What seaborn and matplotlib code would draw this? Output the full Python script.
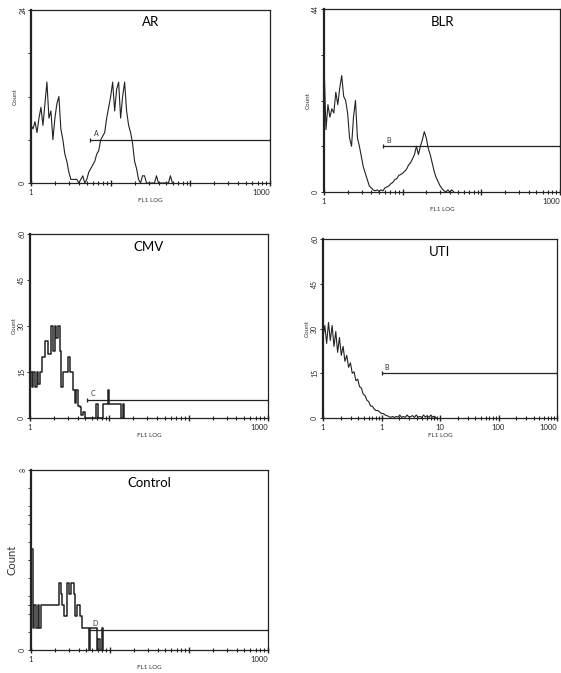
import numpy as np
import seaborn as sns
import matplotlib.pyplot as plt
from matplotlib.ticker import NullFormatter, MultipleLocator, FixedLocator

# histogram counts per channel
# channels are evenly spaced in log10(FL1); res = channels per decade
ar_counts = [8, 7.5, 8.5, 7, 9, 10.5, 8, 11, 14, 9, 10, 6, 9, 11, 12, 7.5, 6, 4, 3, 1.5,
             0.5, 0.5, 0.5, 0.5, 0, 0.5, 1, 0, 0.5, 1.5, 2, 2.5, 3, 4, 4.5, 6, 6.5, 7, 9,
             10.5, 12, 14, 10, 13, 14, 9, 12, 14, 10, 8, 7, 5.5, 3, 2, 0.5, 0, 1, 1, 0,
             0, 0, 0, 0, 1, 0, 0, 0, 0, 0, 0, 1, 0]
blr_counts = [31, 15, 21, 18, 20, 19, 24, 21, 25, 28, 23, 22, 19, 13, 11, 18, 22, 13, 11,
              8.5, 6, 4.5, 3, 1.5, 1, 0.5, 0.3, 0.5, 0.2, 0.5, 0.3, 1, 1.2, 1.5, 2, 2.3,
              3, 3.2, 4, 4.2, 4.5, 5, 5.5, 6.5, 7, 8, 9, 11, 9, 11, 12.5, 14.5, 13, 10.5,
              9, 7, 5, 3.5, 2.5, 1.5, 0.8, 0.3, 0, 0.5, 0, 0.5, 0]
cmv_counts = [15, 10, 15, 10, 15, 11, 15, 20, 20, 25, 25, 21, 21, 30, 22, 30, 26, 30, 22,
              10, 15, 15, 15, 20, 15, 15, 9, 5, 9, 4, 3.5, 1, 2, 0, 0, 0, 0, 0, 0, 0,
              4.7, 0, 0, 0, 4.7, 4.7, 4.7, 9, 4.7, 4.7, 4.7, 4.7, 4.7, 4.7, 4.7, 0, 4.7, 0]
uti_counts = [27, 31, 25, 32, 26, 31, 24, 29, 22, 27, 21, 24, 19, 21, 17, 18.5, 15, 15.5,
              12.5, 13, 10.5, 10, 8, 7.5, 6, 5.5, 4, 4, 3, 2.5, 2.5, 2, 1.5, 1.5, 1, 0.8,
              0.5, 0.2, 0.5, 0.2, 0.5, 0.3, 1, 0.2, 0.5, 0.2, 1, 0.3, 0.5, 0.8, 0.2, 1,
              0.3, 0.5, 0.2, 1, 0.3, 0.8, 0.2, 1, 0.3, 0.6, 0]
control_counts = [4.5, 1, 2, 1, 2, 1, 2, 2, 2, 2, 2, 2, 2, 2, 2, 2, 2, 3, 2.5, 2, 1.5,
                  1.5, 3, 2.5, 3, 3, 2.5, 1.5, 2, 2, 1.5, 1, 1, 1, 1, 0, 1, 1, 1, 1, 0,
                  0.5, 0, 1, 0]

titles = ['AR', 'BLR', 'CMV', 'UTI', 'Control']
res = [40, 40, 48, 32, 48]
start_decade = [0, 0, 0, -1, 0]
ymax = [24, 44, 60, 60, 8]
gate_start = [5.5, 5.6, 5.2, 1.0, 5.4]
gate_level = [6, 11, 5.8, 15, 0.9]
gate_label = ['A', 'B', 'C', 'B', 'D']
steps = [False, False, True, False, True]
all_counts = [ar_counts, blr_counts, cmv_counts, uti_counts, control_counts]

sns.set_style('ticks', {'xtick.bottom': True, 'ytick.left': True})
plt.rcParams['font.family'] = ['Lato', 'DejaVu Sans']

W, H = 561, 673
fig = plt.figure(figsize=(W / 100, H / 100), dpi=100)

# panel boxes in pixels: left, right, top, bottom
boxes = [(31, 270, 10, 183), (324, 560, 9, 192), (30, 268, 234, 418),
         (323, 557, 239, 418), (31, 268, 470, 650)]

for k, (l, r, t, b) in enumerate(boxes):
    ax = fig.add_axes([l / W, (H - b) / H, (r - l) / W, (b - t) / H])
    counts = np.array(all_counts[k])
    ch = np.arange(len(counts))
    fl1 = 10 ** (start_decade[k] + ch / res[k])
    kw = dict(drawstyle='steps-post') if steps[k] else {}
    sns.lineplot(x=fl1, y=counts, ax=ax, color='#222222',
                 lw=1.1 if steps[k] else 0.8, estimator=None, sort=False, **kw)

    xlo = 10 ** start_decade[k]
    ax.set_xscale('log')
    ax.set_xlim(xlo, 1000)
    ax.set_ylim(0, ymax[k])

    # gate marker
    ax.plot([gate_start[k], 1000], [gate_level[k]] * 2, color='#222222', lw=0.9,
            marker='|', ms=3, mew=0.9)
    ax.text(gate_start[k] * 1.12, gate_level[k] + ymax[k] * 0.015, gate_label[k],
            fontsize=5, color='#333333', va='bottom')

    ax.text(0.5, 0.93, titles[k], transform=ax.transAxes, ha='center', va='center',
            fontsize=9.5, color='black')

    # axes styling
    for side in ['top', 'right', 'bottom']:
        ax.spines[side].set_linewidth(0.9)
    ax.spines['left'].set_linewidth(1.6)
    for s in ax.spines.values():
        s.set_color('#222222')

    yt = np.linspace(0, ymax[k], 5)
    if k in (2, 3):
        ylabs = ['0', '15', '30', '45', '60']
    else:
        ylabs = ['0', '', '', '', str(ymax[k])]
    ax.set_yticks(yt, labels=ylabs)
    if k == 4:
        ax.yaxis.set_minor_locator(MultipleLocator(0.8))
    ax.tick_params(axis='y', labelsize=5, length=2.5, width=0.7, pad=1, labelrotation=90)
    ax.tick_params(axis='y', which='minor', length=2, width=0.6, left=True)
    for lab in ax.get_yticklabels():
        lab.set_va('center')

    if k == 3:
        xt = [0.1, 1, 10, 100, 1000]
        xlabs = ['1', '1', '10', '100', '1000']
    else:
        xt = [1, 10, 100, 1000]
        xlabs = ['1', '', '', '1000']
    minor = [m * d for d in xt[:-1] for m in range(2, 10)]
    ax.xaxis.set_major_locator(FixedLocator(xt))
    ax.set_xticklabels(xlabs)
    ax.xaxis.set_minor_locator(FixedLocator(minor))
    ax.xaxis.set_minor_formatter(NullFormatter())
    ax.tick_params(axis='x', which='both', bottom=True, direction='inout',
                   color='#222222', labelsize=5.5, pad=1.5)
    ax.tick_params(axis='x', which='major', length=5, width=1.0)
    ax.tick_params(axis='x', which='minor', length=3.5, width=0.8)
    ax.get_xticklabels()[-1].set_ha('right')

    ax.set_xlabel('FL1 LOG', fontsize=4.5, labelpad=2, color='#333333')
    ax.set_ylabel('Count', fontsize=8 if k == 4 else 4.5, labelpad=1, color='#333333')

fig.savefig('out.png', dpi=100, facecolor='white')
